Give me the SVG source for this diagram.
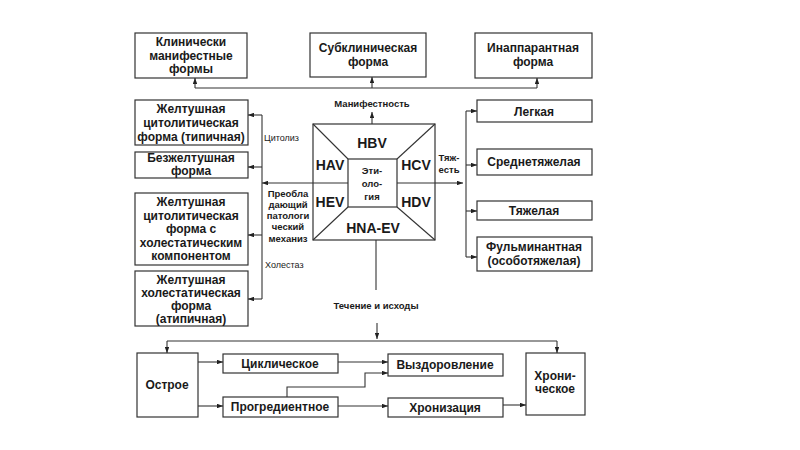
<svg xmlns="http://www.w3.org/2000/svg" width="800" height="450" viewBox="0 0 800 450">
<defs>
<marker id="ah" viewBox="0 0 8 6" refX="8" refY="3" markerWidth="6" markerHeight="4.5" orient="auto" markerUnits="userSpaceOnUse">
<path d="M0,0 L8,3 L0,6 Z" fill="#222"/>
</marker>
<style>
rect.b{fill:#fff;stroke:#333;stroke-width:1.2}
text{font-family:"Liberation Sans",Arial,sans-serif;fill:#1a1a1a}
.t{font-size:12px;font-weight:bold;text-anchor:middle}
.v{font-size:14px;font-weight:bold;text-anchor:middle}
.s{font-size:9px}
.m{font-size:9.5px;font-weight:bold;text-anchor:middle}
.c path,.c line,.c polyline{fill:none;stroke:#333;stroke-width:1.1}
.c .a{marker-end:url(#ah)}
</style>
</defs>
<rect width="800" height="450" fill="#fff"/>

<g id="n-klin"><rect class="b" x="135" y="33" width="112" height="45"/>
<text class="t" x="191" y="46">Клинически</text><text class="t" x="191" y="59.5">манифестные</text><text class="t" x="191" y="73">формы</text></g>
<g id="n-subklin"><rect class="b" x="310" y="33" width="116" height="44"/>
<text class="t" x="368" y="52">Субклиническая</text><text class="t" x="368" y="66">форма</text></g>
<g id="n-inapp"><rect class="b" x="475" y="33" width="117" height="45"/>
<text class="t" x="533" y="52">Инаппарантная</text><text class="t" x="533" y="66">форма</text></g>

<g id="n-zh1"><rect class="b" x="135" y="100" width="113" height="45"/>
<text class="t" x="191" y="112.5">Желтушная</text><text class="t" x="191" y="126.5">цитолитическая</text><text class="t" x="191" y="140.5">форма (типичная)</text></g>
<g id="n-bez"><rect class="b" x="135" y="152" width="113" height="26"/>
<text class="t" x="191" y="162">Безжелтушная</text><text class="t" x="191" y="175">форма</text></g>
<g id="n-zh2"><rect class="b" x="135" y="193" width="113" height="72"/>
<text class="t" x="191" y="206">Желтушная</text><text class="t" x="191" y="219.5">цитолитическая</text><text class="t" x="191" y="233">форма с</text><text class="t" x="191" y="246.5">холестатическим</text><text class="t" x="191" y="260">компонентом</text></g>
<g id="n-zh3"><rect class="b" x="135" y="271" width="113" height="55"/>
<text class="t" x="191" y="284">Желтушная</text><text class="t" x="191" y="297">холестатическая</text><text class="t" x="191" y="310">форма</text><text class="t" x="191" y="322.5">(атипичная)</text></g>

<g id="n-leg"><rect class="b" x="477" y="100" width="115" height="22"/><text class="t" x="534" y="115.5">Легкая</text></g>
<g id="n-sred"><rect class="b" x="477" y="149" width="115" height="26"/><text class="t" x="534" y="166">Среднетяжелая</text></g>
<g id="n-tyazh"><rect class="b" x="477" y="201" width="115" height="19"/><text class="t" x="534" y="215">Тяжелая</text></g>
<g id="n-ful"><rect class="b" x="477" y="237" width="115" height="34"/>
<text class="t" x="534" y="251">Фульминантная</text><text class="t" x="534" y="265">(особотяжелая)</text></g>

<g id="n-etio">
<rect class="b" x="313" y="124" width="122" height="116"/>
<rect class="b" x="348" y="159" width="49" height="48"/>
<line x1="313" y1="124" x2="348" y2="159" stroke="#333" stroke-width="1.1"/>
<line x1="435" y1="124" x2="397" y2="159" stroke="#333" stroke-width="1.1"/>
<line x1="313" y1="240" x2="348" y2="207" stroke="#333" stroke-width="1.1"/>
<line x1="435" y1="240" x2="397" y2="207" stroke="#333" stroke-width="1.1"/>
<line x1="313" y1="183" x2="348" y2="183" stroke="#333" stroke-width="1.1"/>
<line x1="397" y1="183" x2="435" y2="183" stroke="#333" stroke-width="1.1"/>
<text class="v" x="372" y="148">HBV</text>
<text class="v" x="330" y="170">HAV</text>
<text class="v" x="416" y="170">HCV</text>
<text class="v" x="330" y="207">HEV</text>
<text class="v" x="416" y="207">HDV</text>
<text class="v" x="373" y="233">HNA-EV</text>
<text class="m" x="372" y="174">Эти-</text>
<text class="m" x="372" y="187">оло-</text>
<text class="m" x="372" y="200">гия</text>
</g>

<g id="n-ostr"><rect class="b" x="137" y="353" width="61" height="64"/><text class="t" x="167" y="389">Острое</text></g>
<g id="n-cikl"><rect class="b" x="223" y="354" width="115" height="19"/><text class="t" x="280" y="367.5">Циклическое</text></g>
<g id="n-progr"><rect class="b" x="223" y="397" width="115" height="20"/><text class="t" x="280" y="411">Прогредиентное</text></g>
<g id="n-vyzd"><rect class="b" x="388" y="354" width="115" height="22"/><text class="t" x="445" y="369">Выздоровление</text></g>
<g id="n-hroniz"><rect class="b" x="388" y="398" width="115" height="19"/><text class="t" x="445" y="412">Хронизация</text></g>
<g id="n-hron"><rect class="b" x="526" y="353" width="59" height="62"/>
<text class="t" x="555" y="380">Хрони-</text><text class="t" x="555" y="393">ческое</text></g>

<g id="labels">
<text class="m" x="372" y="107">Манифестность</text>
<text class="s" x="264" y="141">Цитолиз</text>
<text class="s" x="265" y="268">Холестаз</text>
<text class="m" x="288" y="197">Преобла</text>
<text class="m" x="288" y="208">дающий</text>
<text class="m" x="288" y="219">патологи</text>
<text class="m" x="288" y="230">ческий</text>
<text class="m" x="288" y="242">механиз</text>
<text class="m" x="449" y="161">Тяж-</text>
<text class="m" x="449" y="173">есть</text>
<text class="m" x="376" y="309">Течение и исходы</text>
</g>

<g id="connectors" class="c">
<line class="a" x1="372" y1="124" x2="372" y2="112"/>
<polyline points="195,88 537,88"/>
<line class="a" x1="195" y1="88" x2="195" y2="78"/>
<line class="a" x1="372" y1="88" x2="372" y2="77"/>
<line class="a" x1="537" y1="88" x2="537" y2="78"/>

<line class="a" x1="313" y1="183" x2="262" y2="183"/>
<line x1="262" y1="115" x2="262" y2="299"/>
<line class="a" x1="262" y1="115" x2="248" y2="115"/>
<line class="a" x1="262" y1="167" x2="248" y2="167"/>
<line class="a" x1="262" y1="235" x2="248" y2="235"/>
<line class="a" x1="262" y1="299" x2="248" y2="299"/>

<line class="a" x1="435" y1="183" x2="463" y2="183"/>
<line x1="466" y1="111" x2="466" y2="257"/>
<line class="a" x1="466" y1="111" x2="477" y2="111"/>
<line class="a" x1="466" y1="165" x2="477" y2="165"/>
<line class="a" x1="466" y1="211" x2="477" y2="211"/>
<line class="a" x1="466" y1="257" x2="477" y2="257"/>

<line x1="376" y1="240" x2="376" y2="290"/>
<line class="a" x1="377" y1="323" x2="377" y2="339"/>
<polyline points="167,341 557,341"/>
<line class="a" x1="167" y1="341" x2="167" y2="353"/>
<line class="a" x1="557" y1="341" x2="557" y2="353"/>

<line class="a" x1="198" y1="362" x2="223" y2="362"/>
<line class="a" x1="198" y1="406" x2="223" y2="406"/>
<line class="a" x1="338" y1="362" x2="388" y2="362"/>
<polyline class="a" points="287,397 287,387 365,387 365,373 388,373"/>
<line class="a" x1="338" y1="406" x2="388" y2="406"/>
<line class="a" x1="503" y1="405" x2="526" y2="405"/>
</g>
</svg>
